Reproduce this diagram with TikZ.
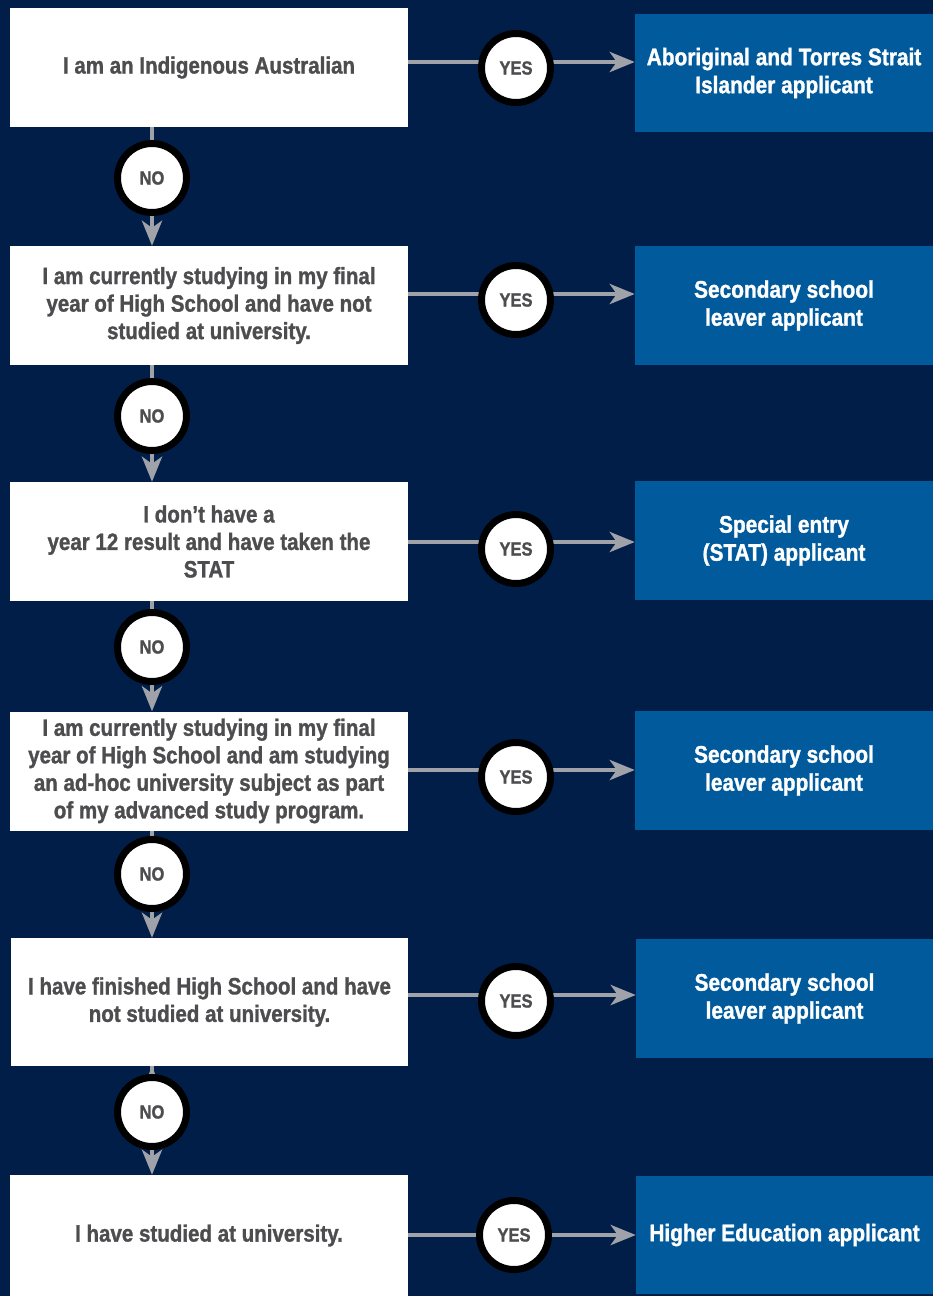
\documentclass[tikz,border=0pt]{standalone}
\usepackage{fontspec}
\setmainfont{Liberation Sans}[FakeStretch=0.87,BoldFeatures={FakeBold=1.2}]
\usepackage{xcolor}
\usetikzlibrary{arrows.meta}

\definecolor{navy}{RGB}{0,30,72}
\definecolor{appblue}{RGB}{0,90,156}
\definecolor{linkgray}{RGB}{160,162,170}
\definecolor{textgray}{RGB}{77,77,79}

\tikzset{
	question/.style={fill=white,text=textgray,align=center,inner sep=0pt,
		minimum width=398pt,minimum height=119pt,
		font=\bfseries\fontsize{23.6}{27.5}\selectfont},
	outcome/.style={fill=appblue,text=white,align=center,inner sep=0pt,
		minimum width=298pt,minimum height=118pt,
		font=\bfseries\fontsize{24}{28}\selectfont},
	answer/.style={circle,draw=black,line width=7pt,fill=white,text=textgray,
		minimum size=69pt,inner sep=0pt,font=\bfseries\fontsize{19}{19}\selectfont},
	link/.style={draw=linkgray,line width=4.5pt,
		-{Stealth[length=25pt,width=20pt,inset=7pt]}}
}

\begin{document}
\begin{tikzpicture}[x=1pt,y=-1pt]
		\fill[navy] (0,0) rectangle (933,1296);
		\useasboundingbox (0,0) rectangle (933,1296);
		%
		\node[question] (Q1) at (209,67.5) {I am an Indigenous Australian};
		\node[question] (Q2) at (209,305.5) {I am currently studying in my final\\year of High School and have not\\studied at university.};
		\node[question] (Q3) at (209,541.5) {I don’t have a\\year 12 result and have taken the\\STAT};
		\node[question] (Q4) at (209,771) {I am currently studying in my final\\year of High School and am studying\\an ad-hoc university subject as part\\of my advanced study program.};
		\node[question,minimum width=397pt,minimum height=128pt] (Q5) at (209.5,1002) {I have finished High School and have\\not studied at university.};
		\node[question,minimum height=121pt] (Q6) at (209,1235.5) {I have studied at university.};
		%
		\node[outcome] (R1) at (784,73) {Aboriginal and Torres Strait\\Islander applicant};
		\node[outcome,minimum height=119pt] (R2) at (784,305.5) {Secondary school\\leaver applicant};
		\node[outcome,minimum height=119pt] (R3) at (784,540.5) {Special entry\\(STAT) applicant};
		\node[outcome,minimum height=119pt] (R4) at (784,770.5) {Secondary school\\leaver applicant};
		\node[outcome,minimum width=297pt,minimum height=119pt] (R5) at (784.5,998.5) {Secondary school\\leaver applicant};
		\node[outcome,minimum width=297pt] (R6) at (784.5,1235) {Higher Education applicant};
		%
		\coordinate (V) at (152,0);
		\coordinate (L1) at (0,62);
		\coordinate (L2) at (0,294);
		\coordinate (L3) at (0,542);
		\coordinate (L4) at (0,770);
		\coordinate (L5) at (0,995);
		\coordinate (L6) at (0,1235);
		%
		\path[link]
		(Q1.east |- L1) edge (R1.west |- L1)
		(Q2.east |- L2) edge (R2.west |- L2)
		(Q3.east |- L3) edge (R3.west |- L3)
		(Q4.east |- L4) edge (R4.west |- L4)
		(Q5.east |- L5) edge (R5.west |- L5)
		(Q6.east |- L6) edge (R6.west |- L6)
		(Q1.south -| V) edge (Q2.north -| V)
		(Q2.south -| V) edge (Q3.north -| V)
		(Q3.south -| V) edge (Q4.north -| V)
		(Q4.south -| V) edge (Q5.north -| V)
		(Q5.south -| V) edge (Q6.north -| V);
		%
		\node[answer] (Y1) at (516,68) {YES};
		\node[answer] (Y2) at (516,300) {YES};
		\node[answer] (Y3) at (516,549) {YES};
		\node[answer] (Y4) at (516,777) {YES};
		\node[answer] (Y5) at (516,1001) {YES};
		\node[answer] (Y6) at (514,1235) {YES};
		\node[answer] (N1) at (152,178) {NO};
		\node[answer] (N2) at (152,416) {NO};
		\node[answer] (N3) at (152,647) {NO};
		\node[answer] (N4) at (152,874) {NO};
		\node[answer] (N5) at (152,1112) {NO};
\end{tikzpicture}
\end{document}
